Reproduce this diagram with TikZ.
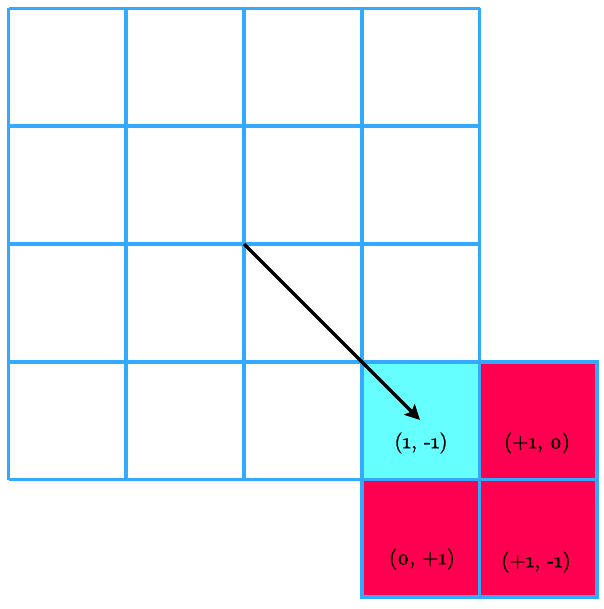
\documentclass[tikz,border=0pt]{standalone}
\usepackage{fontspec}
\newfontfamily\labelfont{lmroman10-regular.otf}[Numbers=OldStyle,FakeBold=1.5]
\usetikzlibrary{arrows.meta}
\definecolor{gridblue}{RGB}{51,170,255}
\definecolor{cellcyan}{RGB}{102,255,255}
\definecolor{cellred}{RGB}{255,0,80}
\tikzset{
  gridline/.style={draw=gridblue, line width=3.6pt},
  cyancell/.style={fill=cellcyan, draw=gridblue, line width=3.6pt},
  redcell/.style={fill=cellred, draw=gridblue, line width=3.6pt},
  celllabel/.style={font=\labelfont\fontsize{21}{24}\selectfont, inner sep=0pt},
  move/.style={draw=black, line width=3.2pt, -{Stealth[length=15pt,width=15pt,inset=3pt]}},
}
\begin{document}
\begin{tikzpicture}[x=1pt,y=-1pt]
\useasboundingbox (0,0) rectangle (603,609);
\def\c{117.75}
% coloured cells
\path[cyancell] (361.75,361.75) rectangle (479.5,479.5);
\path[redcell] (479.5,361.75) rectangle (597.25,479.5);
\path[redcell] (361.75,479.5) rectangle (479.5,597.25);
\path[redcell] (479.5,479.5) rectangle (597.25,597.25);
% grid
\foreach \i in {0,...,4}{
  \draw[gridline] (8.5+\i*\c,8.5) -- (8.5+\i*\c,479.5);
  \draw[gridline] (8.5,8.5+\i*\c) -- (479.5,8.5+\i*\c);
}
\draw[gridline] (361.75,479.5) -- (361.75,597.25) -- (597.25,597.25) -- (597.25,361.75) -- (479.5,361.75);
\draw[gridline] (479.5,479.5) -- (597.25,479.5);
\draw[gridline] (479.5,479.5) -- (479.5,597.25);
% labels
\node[celllabel] (l1) at (421,443) {(1, -1)};
\node[celllabel] (l2) at (537,443) {(+1, 0)};
\node[celllabel] (l3) at (422,559) {(0, +1)};
\node[celllabel] (l4) at (536,562) {(+1, -1)};
% arrow
\coordinate (start) at (244,244);
\coordinate (tip) at (420,420);
\draw[move] (start) -- (tip);
\end{tikzpicture}
\end{document}
